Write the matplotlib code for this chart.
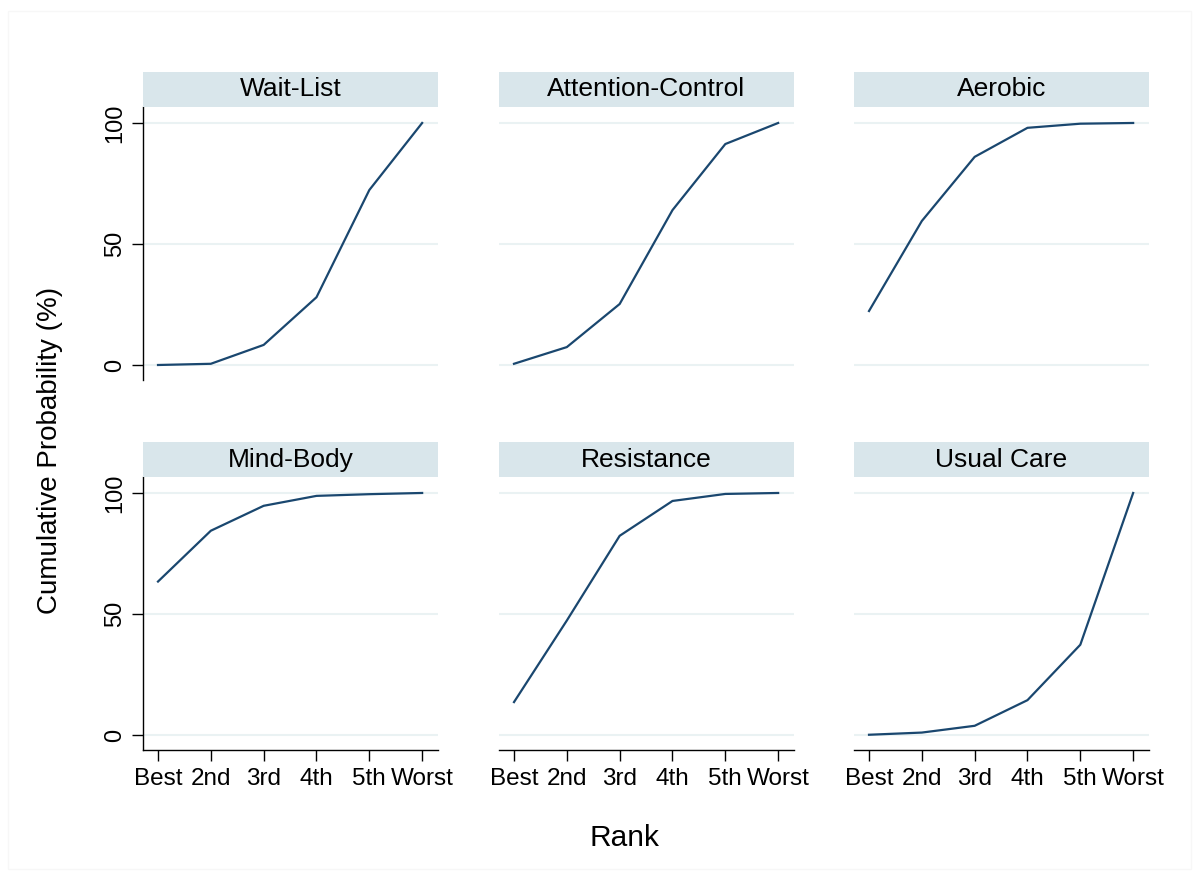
import matplotlib.pyplot as plt
from matplotlib.patches import Rectangle

plt.rcParams['font.family'] = ['Liberation Sans', 'DejaVu Sans']

ranks = ['Best', '2nd', '3rd', '4th', '5th', 'Worst']
treatments = ['Wait-List', 'Attention-Control', 'Aerobic',
              'Mind-Body', 'Resistance', 'Usual Care']

wait_list = [0.0, 0.5, 8.3, 28.0, 72.3, 100.0]
attention_control = [0.5, 7.4, 25.2, 64.0, 91.3, 100.0]
aerobic = [22.3, 59.5, 86.0, 98.0, 99.7, 100.0]
mind_body = [63.4, 84.4, 94.7, 98.8, 99.5, 100.0]
resistance = [13.6, 47.3, 82.3, 96.7, 99.6, 100.0]
usual_care = [0.1, 1.0, 3.8, 14.4, 37.3, 100.0]

series = [wait_list, attention_control, aerobic, mind_body, resistance, usual_care]

W, H = 1199, 880
fig = plt.figure(figsize=(W / 100, H / 100), dpi=100)

# faint outer frame (graph region)
fig.patches.append(Rectangle((8 / W, 11 / H), (W - 16) / W, (H - 22) / H,
                             transform=fig.transFigure, fill=False,
                             edgecolor='#f7f7f7', lw=1))

line_col = '#1a476f'
strip_col = '#d9e6eb'
grid_col = '#eaf2f3'

col_x = [143, 499, 854]
pw = 295
rows = [(107, 380, 72), (477, 750, 442)]  # top of plot, bottom of plot, top of strip

for i, (name, vals) in enumerate(zip(treatments, series)):
    r, c = divmod(i, 3)
    top, bot, stop = rows[r]
    x0 = col_x[c]
    ax = fig.add_axes([x0 / W, 1 - bot / H, pw / W, (bot - top) / H])
    ax.plot(range(len(ranks)), vals, color=line_col, lw=1.6)
    ax.set_xlim(-0.284, 5.30)
    ax.set_ylim(-6.2, 106.6)
    ax.set_yticks([0, 50, 100])
    ax.yaxis.grid(True, color=grid_col, lw=1.5)
    ax.set_axisbelow(True)
    for s in ['top', 'right']:
        ax.spines[s].set_visible(False)
    ax.spines['left'].set_visible(c == 0)
    ax.spines['bottom'].set_visible(r == 1)
    ax.spines['left'].set_linewidth(1.0)
    ax.spines['bottom'].set_linewidth(1.0)
    if c == 0:
        ax.tick_params(axis='y', length=8, width=1, labelsize=17, pad=4)
        for t in ax.get_yticklabels():
            t.set_rotation(90)
            t.set_va('center')
    else:
        ax.tick_params(axis='y', length=0, labelleft=False)
    if r == 1:
        ax.set_xticks(range(len(ranks)))
        ax.set_xticklabels(ranks)
        ax.tick_params(axis='x', length=8, width=1, labelsize=17.5, pad=5)
    else:
        ax.set_xticks([])
    # strip header
    fig.patches.append(Rectangle((x0 / W, 1 - top / H), pw / W, (top - stop) / H,
                                 transform=fig.transFigure, facecolor=strip_col,
                                 edgecolor='none'))
    fig.text((x0 + pw / 2) / W, 1 - (top + stop) / 2 / H, name,
             ha='center', va='center', fontsize=19)

fig.text(624 / W, 1 - 838 / H, 'Rank', ha='center', va='center', fontsize=21.5)
fig.text(50 / W, 1 - 450 / H, 'Cumulative Probability (%)', ha='center',
         va='center', rotation=90, fontsize=20)

fig.savefig('out.png', dpi=100, facecolor='white')
